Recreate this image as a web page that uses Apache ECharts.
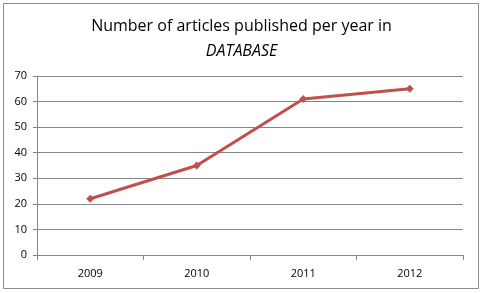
<!DOCTYPE html>
<html>
<head>
<meta charset="utf-8">
<script src="https://cdn.jsdelivr.net/npm/echarts@6/dist/echarts.min.js"></script>
<style>
  html, body { margin: 0; padding: 0; background: #fff; }
  #chart { width: 483px; height: 293px; }
</style>
</head>
<body>
<div id="chart"></div>
<script>
const years = ['2009', '2010', '2011', '2012'];
const articles = [22, 35, 61, 65];
const yTicks = [0, 10, 20, 30, 40, 50, 60, 70];

const chart = echarts.init(document.getElementById('chart'));

const option = {
  animation: false,
  backgroundColor: '#fff',
  graphic: [
    {
      type: 'rect',
      shape: { x: 3.5, y: 3.5, width: 475, height: 285 },
      style: { fill: 'none', stroke: '#8c8c8c', lineWidth: 1 }
    }
  ],
  title: {
    text: 'Number of articles published per year in\n{i|DATABASE}',
    left: 'center',
    top: 9,
    textStyle: {
      fontFamily: 'Open Sans',
      fontSize: 16,
      fontWeight: 'normal',
      color: '#000',
      lineHeight: 25,
      rich: {
        i: {
          fontFamily: 'Open Sans',
          fontSize: 16,
          fontStyle: 'italic',
          color: '#000',
          lineHeight: 25
        }
      }
    }
  },
  grid: {
    left: 37,
    right: 20,
    top: 76,
    bottom: 38,
    containLabel: false
  },
  xAxis: {
    type: 'category',
    data: years,
    boundaryGap: true,
    axisLine: { lineStyle: { color: '#868686' } },
    axisTick: { show: true, length: 5, lineStyle: { color: '#868686' } },
    axisLabel: { color: '#000', fontFamily: 'Open Sans', fontSize: 11, margin: 13 }
  },
  yAxis: {
    type: 'value',
    min: yTicks[0],
    max: yTicks[yTicks.length - 1],
    interval: 10,
    axisLine: { show: true, lineStyle: { color: '#868686' } },
    axisTick: { show: true, length: 4, lineStyle: { color: '#868686' } },
    splitLine: { show: true, lineStyle: { color: '#868686' } },
    axisLabel: { color: '#000', fontFamily: 'Open Sans', fontSize: 11, margin: 10 }
  },
  series: [
    {
      type: 'line',
      data: articles,
      symbol: 'diamond',
      symbolSize: 8,
      lineStyle: { color: '#c0504d', width: 3 },
      itemStyle: { color: '#c0504d' }
    }
  ]
};

chart.setOption(option);
</script>
</body>
</html>
